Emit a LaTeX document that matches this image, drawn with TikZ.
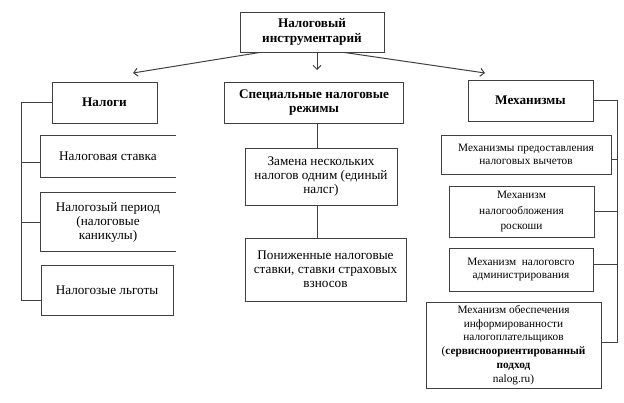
\documentclass[tikz,border=0pt]{standalone}
\usepackage{fontspec}
\setmainfont{Liberation Serif}
\usetikzlibrary{arrows.meta}

\begin{document}
\begin{tikzpicture}[x=1pt,y=-1pt,
  blk/.style={draw=black!75, line width=1pt, align=center, inner sep=1pt,
    font=\fontsize{13.2}{14}\selectfont},
  sml/.style={blk, font=\fontsize{11.3}{13.7}\selectfont},
  open/.style={blk, draw=none},
  head/.style={blk, font=\fontsize{13.2}{14.5}\selectfont\bfseries},
  link/.style={draw=black!75, line width=1pt},
  arr/.style={link, -{Straight Barb[length=4pt,width=8pt]}}]
\useasboundingbox (0,0) rectangle (624,402);

% top
\node[head, minimum width=144pt, minimum height=40pt] (top) at (312,32) {Налоговый\\инструментарий};

% three groups
\node[head, minimum width=105pt, minimum height=41pt] (nal) at (104.5,102.5) {Налоги};
\node[head, minimum width=179pt, minimum height=41pt] (spec) at (314,102.5) {Специальные налоговые\\режимы};
\node[head, minimum width=125pt, minimum height=41pt] (mech) at (530.5,100.5) {Механизмы};

\coordinate (aL) at (133,73);
\coordinate (aM) at (317,70);
\coordinate (aR) at (485,73);
\draw[arr] ([xshift=20pt]top.south west) -- (aL);
\draw[arr] ([xshift=5pt]top.south) -- (aM);
\draw[arr] ([xshift=-40pt]top.south east) -- (aR);

% left column
\node[open, minimum width=134pt, minimum height=41pt] (st) at (108,156.5) {Налоговая ставка};
\node[open, minimum width=134pt, minimum height=58pt] (per) at (108,222) {Налогозый период\\(налоговые\\каникулы)};
\node[blk, minimum width=132pt, minimum height=50pt] (lg) at (107,290) {Налогозые льготы};
\foreach \n in {st,per} {
\draw[link] (\n.north east) -- (\n.north west) -- (\n.south west) -- (\n.south east);
}
\coordinate (stc) at ([yshift=-6pt]st.west);
\coordinate (lgc) at ([yshift=-10pt]lg.west);
\draw[link] (nal.west) -- ++(-30,0) coordinate (lb) |- (lgc);
\draw[link] (lb |- stc) -- (stc);
\draw[link] (lb |- per.west) -- (per.west);

% middle column
\node[blk, minimum width=152pt, minimum height=57pt] (zam) at (321,176.5) {Замена нескольких\\налогов одним (единый\\налсг)};
\node[blk, minimum width=161pt, minimum height=63pt] (pon) at (325.5,269.5) {Пониженные налоговые\\ставки, ставки страховых\\взносов};
\coordinate (sc) at ([xshift=3pt]spec.south);
\coordinate (zc) at ([xshift=-4pt]zam.south);
\draw[link] (sc) -- (sc |- zam.north);
\draw[link] (zc) -- (zc |- pon.north);

% right column
\node[sml, minimum width=170pt, minimum height=39pt] (m1) at (526,154.5) {Механизмы предоставления\\налоговых вычетов};
\node[sml, minimum width=145pt, minimum height=51pt, font=\fontsize{11.3}{15.5}\selectfont] (m2) at (521.5,211.5) {Механизм\\налогообложения\\роскоши};
\node[sml, minimum width=144pt, minimum height=43pt] (m3) at (521,269.5) {Механизм\ \ налоговсго\\администрирования};
\node[sml, minimum width=175pt, minimum height=86pt] (m4) at (513.5,345) {Механизм обеспечения\\информированности\\налогоплательщиков\\(\textbf{сервисноориентированный}\\\textbf{подход}\\nalog.ru)};
\coordinate (m1c) at ([yshift=-5pt]m1.east);
\coordinate (m3c) at ([yshift=5pt]m3.east);
\coordinate (m4c) at ([yshift=3pt]m4.east);
\draw[link] (mech.east) -- ++(24,0) coordinate (rb) |- (m4c);
\draw[link] (rb |- m1c) -- (m1c);
\draw[link] (rb |- m2.east) -- (m2.east);
\draw[link] (rb |- m3c) -- (m3c);
\end{tikzpicture}
\end{document}
